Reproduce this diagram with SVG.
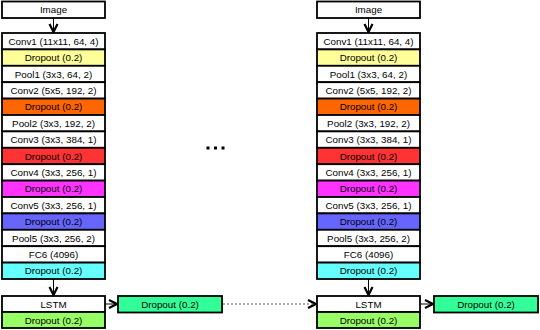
<svg xmlns="http://www.w3.org/2000/svg" width="540" height="330" viewBox="0 0 540 330">
<defs>
<style>
.box{stroke:#000;stroke-width:1.8}
.w{fill:#fff}
.yel{fill:#ffff99}
.org{fill:#ff6600}
.red{fill:#ff3333}
.mag{fill:#ff33ff}
.blu{fill:#6666ff}
.cyn{fill:#66ffff}
.grn{fill:#99ff66}
.mnt{fill:#33ff99}
text{font-family:"Liberation Sans",Arial,sans-serif;font-size:9.8px;fill:#000;text-anchor:middle;dominant-baseline:central}
.arr{stroke:#000;stroke-width:1;fill:none;marker-end:url(#chev)}
.dot{stroke:#555;stroke-width:1;fill:none;stroke-dasharray:2,2;marker-end:url(#chev)}
</style>
<marker id="chev" markerUnits="userSpaceOnUse" markerWidth="12" markerHeight="12" refX="9" refY="5" orient="auto" viewBox="0 0 12 10">
<path d="M1,1 L9,5 L1,9" fill="none" stroke="#000" stroke-width="2.2"/>
</marker>
</defs>
<rect width="540" height="330" fill="#fff"/>

<g id="connectors">
<line class="arr" x1="53.5" y1="18" x2="53.5" y2="32"/>
<line class="arr" x1="53.5" y1="279" x2="53.5" y2="295"/>
<line class="arr" x1="105" y1="304" x2="117" y2="304"/>
<line class="dot" x1="223" y1="304" x2="316" y2="304"/>
<line class="arr" x1="368.5" y1="18" x2="368.5" y2="32"/>
<line class="arr" x1="368.5" y1="279" x2="368.5" y2="295"/>
<line class="arr" x1="420" y1="304" x2="433" y2="304"/>
</g>

<g id="ellipsis">
<rect x="206.5" y="146.5" width="3" height="3" fill="#000"/>
<rect x="214" y="146.5" width="3" height="3" fill="#000"/>
<rect x="221.5" y="146.5" width="3" height="3" fill="#000"/>
</g>

<g id="left">
<g id="L-image"><rect class="box w" x="2" y="1.5" width="103" height="16.5"/><text x="53.5" y="9.8">Image</text></g>
<g id="L-conv1"><rect class="box w" x="2" y="33" width="103" height="16.4"/><text x="53.5" y="41.2">Conv1 (11x11, 64, 4)</text></g>
<g id="L-drop1"><rect class="box yel" x="2" y="49.4" width="103" height="16.4"/><text x="53.5" y="57.6">Dropout (0.2)</text></g>
<g id="L-pool1"><rect class="box w" x="2" y="65.8" width="103" height="16.4"/><text x="53.5" y="74">Pool1 (3x3, 64, 2)</text></g>
<g id="L-conv2"><rect class="box w" x="2" y="82.2" width="103" height="16.4"/><text x="53.5" y="90.4">Conv2 (5x5, 192, 2)</text></g>
<g id="L-drop2"><rect class="box org" x="2" y="98.6" width="103" height="16.4"/><text x="53.5" y="106.8">Dropout (0.2)</text></g>
<g id="L-pool2"><rect class="box w" x="2" y="115" width="103" height="16.4"/><text x="53.5" y="123.2">Pool2 (3x3, 192, 2)</text></g>
<g id="L-conv3"><rect class="box w" x="2" y="131.4" width="103" height="16.4"/><text x="53.5" y="139.6">Conv3 (3x3, 384, 1)</text></g>
<g id="L-drop3"><rect class="box red" x="2" y="147.8" width="103" height="16.4"/><text x="53.5" y="156">Dropout (0.2)</text></g>
<g id="L-conv4"><rect class="box w" x="2" y="164.2" width="103" height="16.4"/><text x="53.5" y="172.4">Conv4 (3x3, 256, 1)</text></g>
<g id="L-drop4"><rect class="box mag" x="2" y="180.6" width="103" height="16.4"/><text x="53.5" y="188.8">Dropout (0.2)</text></g>
<g id="L-conv5"><rect class="box w" x="2" y="197" width="103" height="16.4"/><text x="53.5" y="205.2">Conv5 (3x3, 256, 1)</text></g>
<g id="L-drop5"><rect class="box blu" x="2" y="213.4" width="103" height="16.4"/><text x="53.5" y="221.6">Dropout (0.2)</text></g>
<g id="L-pool5"><rect class="box w" x="2" y="229.8" width="103" height="16.4"/><text x="53.5" y="238">Pool5 (3x3, 256, 2)</text></g>
<g id="L-fc6"><rect class="box w" x="2" y="246.2" width="103" height="16.4"/><text x="53.5" y="254.4">FC6 (4096)</text></g>
<g id="L-drop6"><rect class="box cyn" x="2" y="262.6" width="103" height="16.4"/><text x="53.5" y="270.8">Dropout (0.2)</text></g>
<g id="L-lstm"><rect class="box w" x="2" y="296" width="103" height="16"/><text x="53.5" y="304">LSTM</text></g>
<g id="L-drop7"><rect class="box grn" x="2" y="312" width="103" height="16"/><text x="53.5" y="320">Dropout (0.2)</text></g>
<g id="L-drop8"><rect class="box mnt" x="118" y="296" width="104" height="16.5"/><text x="170" y="304.2">Dropout (0.2)</text></g>
</g>

<g id="right">
<g id="R-image"><rect class="box w" x="317" y="1.5" width="103" height="16.5"/><text x="368.5" y="9.8">Image</text></g>
<g id="R-conv1"><rect class="box w" x="317" y="33" width="103" height="16.4"/><text x="368.5" y="41.2">Conv1 (11x11, 64, 4)</text></g>
<g id="R-drop1"><rect class="box yel" x="317" y="49.4" width="103" height="16.4"/><text x="368.5" y="57.6">Dropout (0.2)</text></g>
<g id="R-pool1"><rect class="box w" x="317" y="65.8" width="103" height="16.4"/><text x="368.5" y="74">Pool1 (3x3, 64, 2)</text></g>
<g id="R-conv2"><rect class="box w" x="317" y="82.2" width="103" height="16.4"/><text x="368.5" y="90.4">Conv2 (5x5, 192, 2)</text></g>
<g id="R-drop2"><rect class="box org" x="317" y="98.6" width="103" height="16.4"/><text x="368.5" y="106.8">Dropout (0.2)</text></g>
<g id="R-pool2"><rect class="box w" x="317" y="115" width="103" height="16.4"/><text x="368.5" y="123.2">Pool2 (3x3, 192, 2)</text></g>
<g id="R-conv3"><rect class="box w" x="317" y="131.4" width="103" height="16.4"/><text x="368.5" y="139.6">Conv3 (3x3, 384, 1)</text></g>
<g id="R-drop3"><rect class="box red" x="317" y="147.8" width="103" height="16.4"/><text x="368.5" y="156">Dropout (0.2)</text></g>
<g id="R-conv4"><rect class="box w" x="317" y="164.2" width="103" height="16.4"/><text x="368.5" y="172.4">Conv4 (3x3, 256, 1)</text></g>
<g id="R-drop4"><rect class="box mag" x="317" y="180.6" width="103" height="16.4"/><text x="368.5" y="188.8">Dropout (0.2)</text></g>
<g id="R-conv5"><rect class="box w" x="317" y="197" width="103" height="16.4"/><text x="368.5" y="205.2">Conv5 (3x3, 256, 1)</text></g>
<g id="R-drop5"><rect class="box blu" x="317" y="213.4" width="103" height="16.4"/><text x="368.5" y="221.6">Dropout (0.2)</text></g>
<g id="R-pool5"><rect class="box w" x="317" y="229.8" width="103" height="16.4"/><text x="368.5" y="238">Pool5 (3x3, 256, 2)</text></g>
<g id="R-fc6"><rect class="box w" x="317" y="246.2" width="103" height="16.4"/><text x="368.5" y="254.4">FC6 (4096)</text></g>
<g id="R-drop6"><rect class="box cyn" x="317" y="262.6" width="103" height="16.4"/><text x="368.5" y="270.8">Dropout (0.2)</text></g>
<g id="R-lstm"><rect class="box w" x="317" y="296" width="103" height="16"/><text x="368.5" y="304">LSTM</text></g>
<g id="R-drop7"><rect class="box grn" x="317" y="312" width="103" height="16"/><text x="368.5" y="320">Dropout (0.2)</text></g>
<g id="R-drop8"><rect class="box mnt" x="434" y="296" width="104" height="16.5"/><text x="486" y="304.2">Dropout (0.2)</text></g>
</g>
</svg>
